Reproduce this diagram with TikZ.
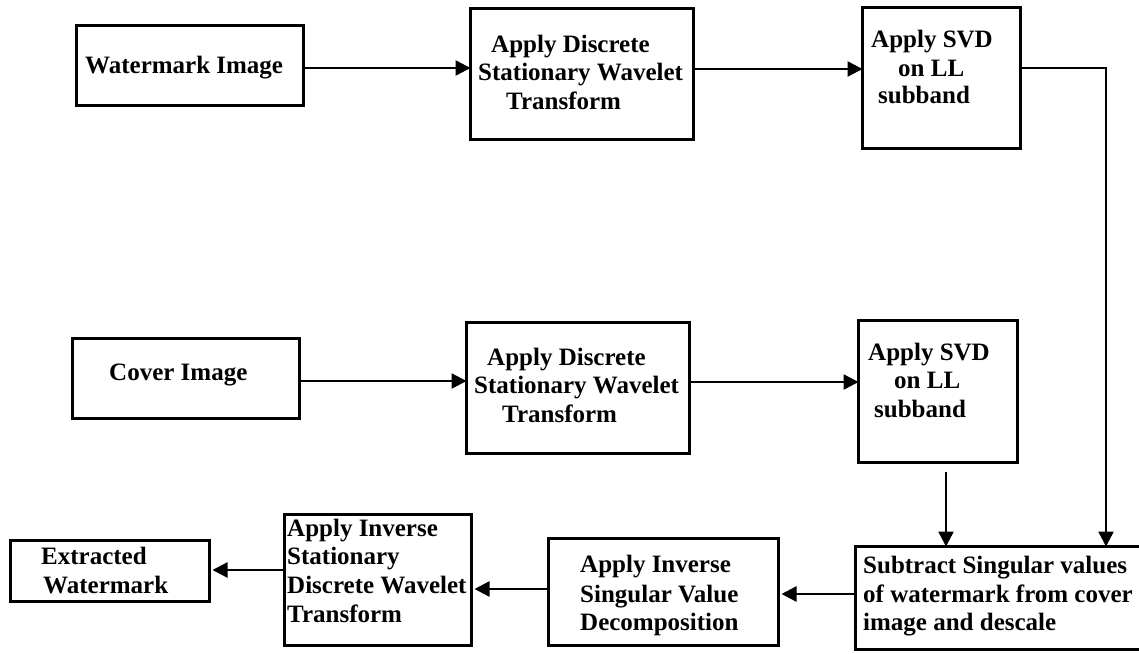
\documentclass[tikz,border=0pt]{standalone}
\usepackage{fontspec}
\setmainfont{Liberation Serif}
\usetikzlibrary{arrows.meta}
\begin{document}
\begin{tikzpicture}[x=1pt,y=-1pt,
  box/.style={draw=black,line width=3pt,inner sep=0pt,outer sep=0pt},
  arr/.style={draw=black,line width=2.5pt,-{Triangle[length=15pt,width=15pt]}},
  lbl/.style={anchor=base west,inner sep=0pt,font=\bfseries\fontsize{25}{29}\selectfont}]
\useasboundingbox (0,0) rectangle (1139,653);

% process boxes
\node[box,minimum width=227pt,minimum height=80pt]  (wm)    at (190,65.5)  {};
\node[box,minimum width=223pt,minimum height=131pt] (dswt1) at (582,74)    {};
\node[box,minimum width=158pt,minimum height=141pt] (svd1)  at (941.5,78)  {};
\node[box,minimum width=227pt,minimum height=80pt]  (cov)   at (186,378.5) {};
\node[box,minimum width=223pt,minimum height=131pt] (dswt2) at (578,388)   {};
\node[box,minimum width=159pt,minimum height=142pt] (svd2)  at (938,391.5) {};
\node[box,minimum width=293pt,minimum height=103pt] (sub)   at (1002,598)  {};
\node[box,minimum width=230pt,minimum height=107pt] (isvd)  at (663.5,592) {};
\node[box,minimum width=187pt,minimum height=131pt] (iswt)  at (378,580)   {};
\node[box,minimum width=199pt,minimum height=61pt]  (ext)   at (110,571)   {};

% labels
\node[lbl] (wmA) at (85,73) {Watermark Image};

\node[lbl] (d1A) at (491,52)  {Apply Discrete};
\node[lbl] (d1B) at (478,80)  {Stationary Wavelet};
\node[lbl] (d1C) at (506,109) {Transform};

\node[lbl] (s1A) at (871,47)  {Apply SVD};
\node[lbl] (s1B) at (898,76)  {on LL};
\node[lbl] (s1C) at (878,103) {subband};

\node[lbl] (cvA) at (109,380) {Cover Image};

\node[lbl] (d2A) at (487,365) {Apply Discrete};
\node[lbl] (d2B) at (474,393) {Stationary Wavelet};
\node[lbl] (d2C) at (502,422) {Transform};

\node[lbl] (s2A) at (868,360) {Apply SVD};
\node[lbl] (s2B) at (894,388) {on LL};
\node[lbl] (s2C) at (874,417) {subband};

\node[lbl] (sbA) at (863,573) {Subtract Singular values};
\node[lbl] (sbB) at (863,602) {of watermark from cover};
\node[lbl] (sbC) at (863,630) {image and descale};

\node[lbl] (ivA) at (580,572) {Apply Inverse};
\node[lbl] (ivB) at (580,602) {Singular Value};
\node[lbl] (ivC) at (580,630) {Decomposition};

\node[lbl] (iwA) at (287,536) {Apply Inverse};
\node[lbl] (iwB) at (287,564) {Stationary};
\node[lbl] (iwC) at (287,593) {Discrete Wavelet};
\node[lbl] (iwD) at (287,622) {Transform};

\node[lbl] (exA) at (41,564) {Extracted};
\node[lbl] (exB) at (43,593) {Watermark};

% connector helpers
\coordinate (r1) at (0,68);
\coordinate (r2) at (0,69);
\coordinate (r3) at (0,381);
\coordinate (r4) at (0,382);
\coordinate (turn) at (1106,68);
\coordinate (drop) at (946,472);
\coordinate (b1) at (0,594);
\coordinate (b2) at (0,589);
\coordinate (b3) at (0,570);

% connectors
\draw[arr] (wm.east |- r1) -- (dswt1.west |- r1);
\draw[arr] (dswt1.east |- r2) -- (svd1.west |- r2);
\draw[arr] (svd1.east |- turn) -- (turn) -- (turn |- sub.north);
\draw[arr] (cov.east |- r3) -- (dswt2.west |- r3);
\draw[arr] (dswt2.east |- r4) -- (svd2.west |- r4);
\draw[arr] (drop) -- (drop |- sub.north);
\draw[arr] (sub.west |- b1) -- ([xshift=3pt]isvd.east |- b1);
\draw[arr] (isvd.west |- b2) -- ([xshift=3pt]iswt.east |- b2);
\draw[arr] (iswt.west |- b3) -- ([xshift=3pt]ext.east |- b3);
\end{tikzpicture}
\end{document}
